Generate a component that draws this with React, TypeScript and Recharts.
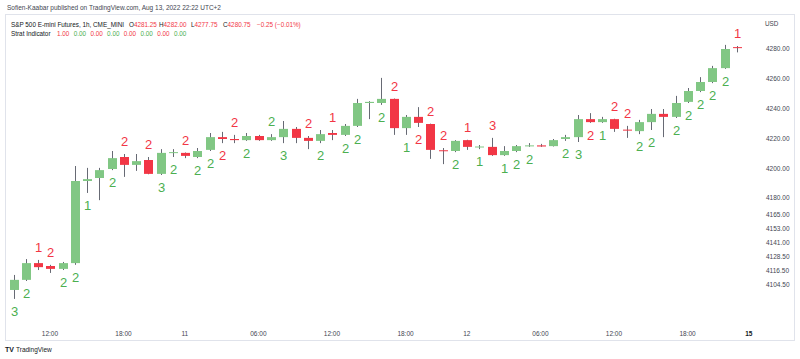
import React from "react";
import { Bar, ComposedChart, XAxis, YAxis } from "recharts";

// hourly ES candles, Aug 10 09:00 -> Aug 12 22:00 (UTC+2)
const opens = [
  4099.75, 4108.5, 4123.0, 4120.5, 4118.0, 4123.0, 4192.0, 4194.0, 4200.0, 4208.0,
  4202.75, 4206.0, 4196.75, 4210.75, 4210.75, 4208.0, 4212.75, 4221.25, 4220.0, 4219.25,
  4222.0, 4219.25, 4221.25, 4226.75, 4220.75, 4218.75, 4224.0, 4222.75, 4228.75, 4244.0,
  4244.0, 4246.75, 4227.25, 4234.75, 4230.0, 4212.5, 4212.0, 4219.25, 4214.75, 4214.75,
  4209.25, 4212.0, 4215.25, 4215.75, 4215.25, 4220.0, 4221.25, 4233.25, 4231.25, 4233.25,
  4226.25, 4225.25, 4231.25, 4236.75, 4234.75, 4244.75, 4252.0, 4258.0, 4267.25, 4281.25,
];
const highs = [
  4112.75, 4126.5, 4125.75, 4121.5, 4124.0, 4202.0, 4200.75, 4200.75, 4212.0, 4210.0,
  4210.0, 4208.0, 4213.25, 4213.25, 4211.0, 4214.0, 4224.0, 4224.75, 4222.75, 4224.0,
  4222.75, 4223.25, 4232.0, 4228.0, 4222.0, 4226.0, 4226.0, 4230.0, 4246.75, 4245.25,
  4260.75, 4247.0, 4236.0, 4241.25, 4230.25, 4214.0, 4219.25, 4219.5, 4216.0, 4220.75,
  4215.25, 4216.0, 4217.25, 4216.75, 4220.0, 4222.75, 4236.0, 4237.25, 4234.75, 4233.5,
  4228.75, 4232.75, 4240.0, 4240.0, 4248.75, 4254.0, 4261.25, 4268.75, 4282.75, 4282.0,
];
const lows = [
  4092.0, 4107.5, 4117.0, 4114.5, 4117.0, 4121.5, 4183.75, 4177.5, 4199.25, 4194.75,
  4198.75, 4196.5, 4196.0, 4208.0, 4207.25, 4207.25, 4212.0, 4217.25, 4217.25, 4218.75,
  4218.75, 4218.75, 4217.25, 4217.25, 4213.25, 4217.25, 4219.25, 4222.0, 4228.0, 4233.25,
  4242.75, 4222.75, 4222.75, 4228.0, 4206.75, 4203.25, 4211.25, 4212.75, 4213.25, 4208.75,
  4208.75, 4211.25, 4214.75, 4214.75, 4215.0, 4218.75, 4218.0, 4230.75, 4230.75, 4224.75,
  4220.75, 4223.25, 4226.0, 4221.25, 4234.0, 4244.0, 4251.25, 4257.25, 4266.75, 4277.75,
];
const closes = [
  4108.5, 4123.0, 4119.5, 4118.0, 4123.0, 4192.0, 4193.25, 4199.25, 4207.25, 4202.75,
  4205.25, 4196.75, 4210.75, 4211.25, 4208.75, 4212.0, 4221.25, 4220.0, 4219.25, 4222.0,
  4219.25, 4221.25, 4226.75, 4220.75, 4218.75, 4223.25, 4222.75, 4228.75, 4244.0, 4244.75,
  4246.75, 4227.25, 4234.75, 4230.75, 4212.75, 4212.0, 4218.75, 4214.75, 4215.0, 4209.25,
  4212.0, 4215.25, 4215.75, 4215.0, 4219.25, 4221.25, 4233.25, 4231.25, 4233.25, 4226.75,
  4226.0, 4231.25, 4236.75, 4234.75, 4244.0, 4252.0, 4258.0, 4267.25, 4280.0, 4280.75,
];
// strat numbers, "" = no label
const stratLabels = [
  "3", "2", "1", "2", "2", "2", "1", "", "2", "2",
  "", "2", "3", "2", "2", "2", "2", "2", "2", "2",
  "", "2", "3", "", "2", "2", "1", "2", "2", "",
  "2", "2", "1", "2", "2", "2", "2", "1", "1", "3",
  "1", "2", "2", "", "", "2", "3", "2", "1", "2",
  "2", "2", "2", "", "2", "2", "2", "2", "2", "1",
];
// a = above the high, b = below the low
const labelSide = "bbaabbb-ba" + "-abbabbbab" + "-ab-ababb-" + "babbaababa" + "bbb--bbbba" + "abb-bbbbba";

const xTickIdx = [3, 9, 14, 20, 26, 32, 37, 43, 49, 55, 60];
const xTickText = ["12:00", "18:00", "11", "06:00", "12:00", "18:00", "12", "06:00", "12:00", "18:00", "15"];
const yTicks = [4280, 4260, 4240, 4220, 4200, 4180, 4165, 4153, 4141, 4128.5, 4116.5, 4104.5];

const GREEN = "#81c784";
const RED = "#f23645";
const GREEN_TXT = "#4caf50";
const WICK = "#676a74";
const FONT = "'Liberation Sans', Arial, sans-serif";

// price scale of the snapshot is compressed below ~4185
const BREAK = 4185;
const RATIO = 0.77;
const v = (p: number) => (p >= BREAK ? p : BREAK - (BREAK - p) * RATIO);
const unv = (t: number) => (t >= BREAK ? t : BREAK - (BREAK - t) / RATIO);

const data = [...opens.map((o, i) => ({ i, o, h: highs[i], l: lows[i], c: closes[i] })), { i: 60 } as any];

const Candle = (props: any) => {
  const { x, y, width, height, payload, index } = props;
  if (!payload || payload.o == null) return null;
  const top = Math.min(y, y + height);
  const h = Math.abs(height);
  const vh = v(payload.h);
  const vl = v(payload.l);
  const py = (p: number) => top + ((vh - v(p)) / (vh - vl)) * h;
  const up = payload.c >= payload.o;
  const cx = Math.round(x + width / 2) + 0.5;
  const bTop = py(Math.max(payload.o, payload.c));
  const bH = Math.max(1, py(Math.min(payload.o, payload.c)) - bTop);
  const side = labelSide[index];
  const txt = stratLabels[index];
  return (
    <g>
      <line x1={cx} x2={cx} y1={top} y2={top + h} stroke={WICK} strokeWidth={1} />
      <rect x={cx - 4.5} y={bTop} width={9} height={bH} fill={up ? GREEN : RED} />
      {txt && (
        <text
          x={cx}
          y={side === "a" ? top - 8 : top + h + 17}
          textAnchor="middle"
          fontSize={13}
          fontFamily={FONT}
          fill={up ? GREEN_TXT : RED}
        >
          {txt}
        </text>
      )}
    </g>
  );
};

const XTick = ({ x, y, payload }: any) => {
  const k = xTickIdx.indexOf(payload.value);
  const last = k === xTickText.length - 1;
  return (
    <text x={x} y={y + 6} textAnchor="middle" fontSize={6.5} fontFamily={FONT}
      fill={last ? "#131722" : "#434651"} fontWeight={last ? 700 : 400}>
      {xTickText[k]}
    </text>
  );
};

const YTick = ({ x, y, payload }: any) => (
  <text x={x + 3} y={y + 2.3} textAnchor="start" fontSize={6.5} fontFamily={FONT} fill="#434651">
    {unv(payload.value).toFixed(2)}
  </text>
);

const stratVals = ["1.00", "0.00", "0.00", "0.00", "0.00", "0.00", "0.00", "0.00"];

export default function App() {
  return (
    <div style={{ position: "absolute", left: 0, top: 0, width: 800, height: 359, background: "#fff" }}>
      <ComposedChart width={800} height={359} data={data} margin={{ top: 15, right: 6, bottom: 19, left: 7 }}>
        <XAxis dataKey="i" type="category" ticks={xTickIdx} interval={0} tick={<XTick />}
          axisLine={false} tickLine={false} height={18} />
        <YAxis orientation="right" type="number" domain={[4098, 4302.67]} ticks={yTicks.map(v)}
          interval={0} tick={<YTick />} axisLine={false} tickLine={false} width={39} allowDataOverflow />
        <Bar dataKey={(d: any) => (d.o == null ? null : [v(d.l), v(d.h)])} barSize={9}
          shape={<Candle />} isAnimationActive={false} />
      </ComposedChart>
      <svg width={800} height={359} style={{ position: "absolute", left: 0, top: 0, pointerEvents: "none" }}>
        <rect x={5.5} y={14.5} width={789} height={326} fill="none" stroke="#e0e3eb" />
        <text x={7} y={9.5} fontSize={6.5} fontFamily={FONT} fill="#434651">
          Sofien-Kaabar published on TradingView.com, Aug 13, 2022 22:22 UTC+2
        </text>
        <g fontSize={6.35} fontFamily={FONT}>
          <text x={11} y={26.5} fill="#131722">S&amp;P 500 E-mini Futures, 1h, CME_MINI</text>
          <text x={129} y={26.5} fill="#131722">O<tspan fill={RED}>4281.25</tspan></text>
          <text x={159} y={26.5} fill="#131722">H<tspan fill={RED}>4282.00</tspan></text>
          <text x={191} y={26.5} fill="#131722">L<tspan fill={RED}>4277.75</tspan></text>
          <text x={223} y={26.5} fill="#131722">C<tspan fill={RED}>4280.75</tspan></text>
          <text x={257} y={26.5} fill={RED}>−0.25 (−0.01%)</text>
          <text x={11} y={35.5} fill="#131722">Strat Indicator</text>
          {stratVals.map((s, i) => (
            <text key={i} x={57 + i * 16.7} y={35.5} fill={i % 2 === 0 ? RED : GREEN_TXT}>{s}</text>
          ))}
          <text x={765} y={25.5} fill="#434651">USD</text>
        </g>
        <text x={5} y={352} fontSize={7} fontWeight={700} fontFamily={FONT} fill="#131722">TV</text>
        <text x={16} y={352} fontSize={6.5} fontFamily={FONT} fill="#131722">TradingView</text>
      </svg>
    </div>
  );
}
